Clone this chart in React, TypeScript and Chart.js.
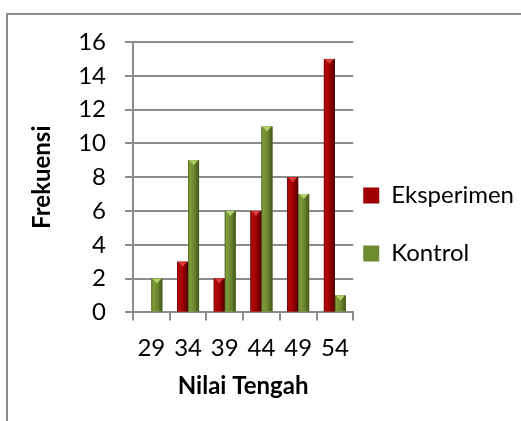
import React, { useEffect, useRef } from "react";
import { Chart, registerables } from "chart.js";

Chart.register(...registerables);

const categories = ["29", "34", "39", "44", "49", "54"];
const eksperimen = [0, 3, 2, 6, 8, 15];
const kontrol = [2, 9, 6, 11, 7, 1];
const seriesNames = ["Eksperimen", "Kontrol"];
const yTitle = "Frekuensi";
const xTitle = "Nilai Tengah";

const FONT = "Lato, 'Open Sans', sans-serif";
const FS = 24;
const GRID = "#8c8c8c";

const palettes = [
  { base: "#a00000", edge: "#6a0000", light: "#b50a0a", mid: "#9c0000", dark: "#4e0000", top: "#dc3a3a" },
  { base: "#6f8b30", edge: "#4c6320", light: "#7f9d3c", mid: "#6c872e", dark: "#43571a", top: "#b2d06a" },
];

const bevelPlugin = {
  id: "bevel",
  afterLayout(chart: any) {
    // small gap between plot area and legend items
    if (chart.legend) {
      chart.legend.left += 5;
      chart.legend.right += 5;
    }
  },
  afterDatasetsDraw(chart: any) {
    const ctx = chart.ctx;
    chart.data.datasets.forEach((_ds: any, di: number) => {
      const meta = chart.getDatasetMeta(di);
      const pal = palettes[di];
      meta.data.forEach((bar: any) => {
        const { x, y, base, width } = bar.getProps(["x", "y", "base", "width"], true);
        const h = base - y;
        if (!(h > 0)) return;
        const left = x - width / 2;
        const right = x + width / 2;
        const g = ctx.createLinearGradient(left, 0, right, 0);
        g.addColorStop(0, pal.edge);
        g.addColorStop(0.15, pal.light);
        g.addColorStop(0.55, pal.mid);
        g.addColorStop(1, pal.dark);
        ctx.save();
        ctx.fillStyle = g;
        ctx.fillRect(left, y, width, h);
        ctx.fillStyle = pal.top;
        ctx.beginPath();
        ctx.moveTo(left + 1, y);
        ctx.lineTo(right - 1, y);
        ctx.lineTo(x, y + Math.min(5, h));
        ctx.closePath();
        ctx.fill();
        ctx.restore();
      });
    });
  },
};

export default function App() {
  const ref = useRef<HTMLCanvasElement | null>(null);
  useEffect(() => {
    if (!ref.current) return;
    const chart = new Chart(ref.current, {
      type: "bar",
      data: {
        labels: categories,
        datasets: [
          { label: seriesNames[0], data: eksperimen, backgroundColor: palettes[0].base, borderWidth: 0 },
          { label: seriesNames[1], data: kontrol, backgroundColor: palettes[1].base, borderWidth: 0 },
        ],
      },
      options: {
        responsive: false,
        animation: false,
        events: [],
        layout: { padding: { top: 42, left: 8, right: 2, bottom: 14 } },
        datasets: { bar: { categoryPercentage: 0.6, barPercentage: 1 } },
        plugins: {
          tooltip: { enabled: false },
          legend: {
            position: "right",
            align: "center",
            maxWidth: 300,
            labels: {
              color: "#000",
              font: { family: FONT, size: FS },
              boxWidth: 16,
              boxHeight: 16,
              padding: 5,
              generateLabels: (c: any) => {
                const items = Chart.defaults.plugins.legend.labels.generateLabels(c);
                const spacer = {
                  text: "",
                  fillStyle: "rgba(0,0,0,0)",
                  strokeStyle: "rgba(0,0,0,0)",
                  lineWidth: 0,
                  hidden: false,
                  datasetIndex: -1,
                };
                return [items[0], spacer as any, items[1]];
              },
            },
          },
        },
        scales: {
          x: {
            grid: {
              display: true,
              drawOnChartArea: false,
              drawTicks: true,
              tickLength: 8,
              color: GRID,
              lineWidth: 2,
              offset: true,
            },
            border: { display: true, color: GRID, width: 2 },
            ticks: { color: "#000", font: { family: FONT, size: FS }, padding: 13, maxRotation: 0 },
            title: {
              display: true,
              text: xTitle,
              color: "#000",
              font: { family: FONT, size: FS, weight: "bold" },
              padding: { top: -3, bottom: 6 },
            },
          },
          y: {
            min: 0,
            max: 16,
            ticks: { stepSize: 2, color: "#000", font: { family: FONT, size: FS }, padding: 19 },
            grid: { color: GRID, lineWidth: 2, tickLength: 8, drawTicks: true },
            border: { display: true, color: GRID, width: 2 },
            title: {
              display: true,
              text: yTitle,
              color: "#000",
              font: { family: FONT, size: FS, weight: "bold" },
              padding: { top: 20, bottom: 20 },
            },
            afterFit: (s: any) => {
              s.width = 125;
            },
          },
        },
      },
      plugins: [bevelPlugin],
    });
    return () => chart.destroy();
  }, []);

  return (
    <div style={{ position: "fixed", left: 0, top: 0, width: 521, height: 421, overflow: "hidden", background: "#fff" }}>
      <div
        style={{
          position: "absolute",
          left: 6,
          top: 13,
          width: 600,
          height: 500,
          border: "2px solid #8c8c8c",
        }}
      />
      <canvas ref={ref} width={521} height={421} style={{ position: "absolute", left: 0, top: 0 }} />
    </div>
  );
}
